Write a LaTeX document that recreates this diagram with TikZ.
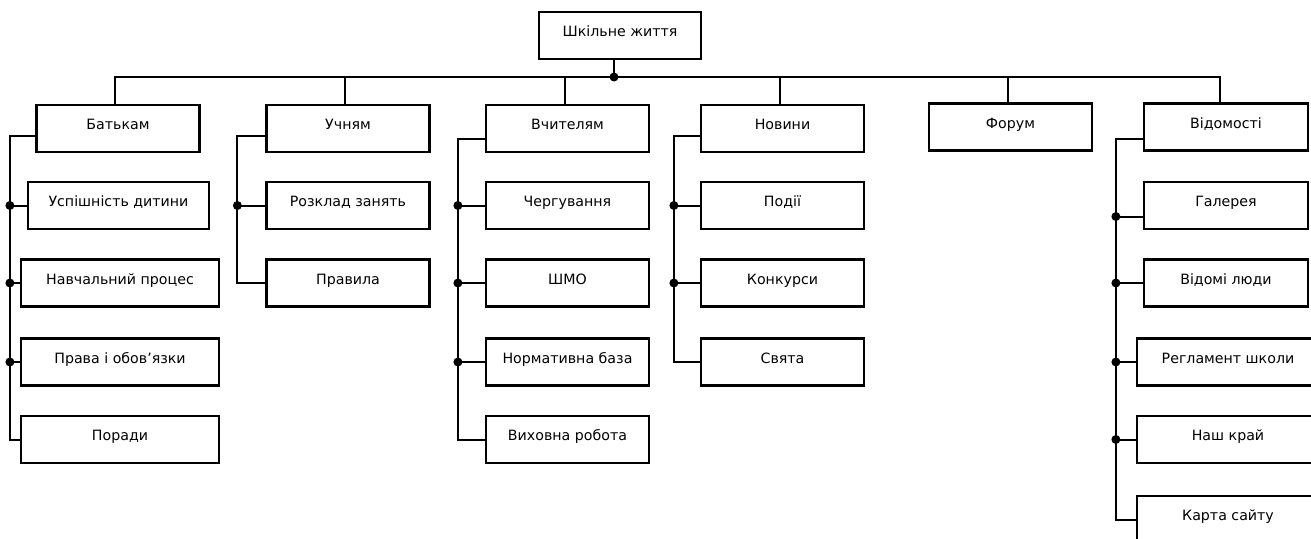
\documentclass[tikz,border=0pt]{standalone}
\usepackage{fontspec}
\setmainfont{DejaVu Sans}
\begin{document}
\begin{tikzpicture}[x=1pt,y=-1pt,
  box/.style={draw, line width=2.2pt, minimum height=47pt, minimum width=163pt,
    inner sep=0pt, text height=10pt, text depth=8pt, font=\fontsize{14.2}{16}\selectfont},
  conn/.style={line width=2pt},
  jdot/.style={circle, fill, inner sep=0pt, minimum size=9pt}]
\useasboundingbox (0,0) rectangle (1311,538);
\clip (0,0) rectangle (1311,538);
% root
\node[box, minimum width=162pt] (root) at (620,35.5) {Шкільне життя};
% level 1
\node[box] (b0) at (118,128.5) {Батькам};
\node[box] (u0) at (348,128.5) {Учням};
\node[box] (t0) at (567.5,128.5) {Вчителям};
\node[box] (n0) at (782.5,128.5) {Новини};
\node[box] (f0) at (1010.5,127) {Форум};
\node[box, minimum width=164pt] (v0) at (1226,127) {Відомості};
% Батькам
\node[box, minimum width=181pt] (b1) at (118.5,205.5) {Успішність дитини};
\node[box, minimum width=198pt] (b2) at (120,283) {Навчальний процес};
\node[box, minimum width=198pt] (b3) at (120,362) {Права і обов’язки};
\node[box, minimum width=198pt] (b4) at (120,439.5) {Поради};
% Учням
\node[box] (u1) at (348,205.5) {Розклад занять};
\node[box] (u2) at (348,283) {Правила};
% Вчителям
\node[box] (t1) at (567.5,205.5) {Чергування};
\node[box] (t2) at (567.5,283) {ШМО};
\node[box] (t3) at (567.5,362) {Нормативна база};
\node[box] (t4) at (567.5,439.5) {Виховна робота};
% Новини
\node[box] (n1) at (782.5,205.5) {Події};
\node[box] (n2) at (782.5,283) {Конкурси};
\node[box] (n3) at (782.5,362) {Свята};
% Відомості
\node[box, minimum width=164pt] (v1) at (1226,205.5) {Галерея};
\node[box, minimum width=164pt] (v2) at (1226,283) {Відомі люди};
\node[box, minimum width=182pt] (v3) at (1228,362) {Регламент школи};
\node[box, minimum width=182pt] (v4) at (1228,439.5) {Наш край};
\node[box, minimum width=182pt] (v5) at (1228,519.5) {Карта сайту};
% bus
\coordinate (bus) at (0,77);
\draw[conn] ([xshift=-6pt]root.south) -- ([xshift=-6pt]root.south |- bus);
\node[jdot] at ([xshift=-6pt]root.south |- bus) {};
\draw[conn] ([xshift=-3pt]b0.north) -- ([xshift=-3pt]b0.north |- bus)
  -- ([xshift=-6pt]v0.north |- bus) -- ([xshift=-6pt]v0.north);
\foreach \n in {u0,t0,n0,f0}
  \draw[conn] ([xshift=-3pt]\n.north) -- ([xshift=-3pt]\n.north |- bus);
% spines
\draw[conn] ([yshift=-7.5pt]b0.west) -| ([xshift=-10pt]b4.west) -- (b4.west);
\foreach \c in {b1,b2,b3}{
  \draw[conn] ([xshift=-10pt]b4.west |- \c.west) -- (\c.west);
  \node[jdot] at ([xshift=-10pt]b4.west |- \c.west) {};}
\draw[conn] ([yshift=-7.5pt]u0.west) -| ([xshift=-28pt]u2.west) -- (u2.west);
\draw[conn] ([xshift=-28pt]u2.west |- u1.west) -- (u1.west);
\node[jdot] at ([xshift=-28pt]u2.west |- u1.west) {};
\draw[conn] ([yshift=-10.5pt]t0.west) -| ([xshift=-27pt]t4.west) -- (t4.west);
\foreach \c in {t1,t2,t3}{
  \draw[conn] ([xshift=-27pt]t4.west |- \c.west) -- (\c.west);
  \node[jdot] at ([xshift=-27pt]t4.west |- \c.west) {};}
\draw[conn] ([yshift=-7.5pt]n0.west) -| ([xshift=-26pt]n3.west) -- (n3.west);
\foreach \c in {n1,n2}{
  \draw[conn] ([xshift=-26pt]n3.west |- \c.west) -- (\c.west);
  \node[jdot] at ([xshift=-26pt]n3.west |- \c.west) {};}
\draw[conn] ([yshift=-12pt]v0.west) -| ([xshift=-20pt]v5.west) -- (v5.west);
\draw[conn] ([xshift=-20pt,yshift=-11pt]v5.west |- v1.west) -- ([yshift=-11pt]v1.west);
\node[jdot] at ([xshift=-20pt,yshift=-11pt]v5.west |- v1.west) {};
\foreach \c in {v2,v3,v4}{
  \draw[conn] ([xshift=-20pt]v5.west |- \c.west) -- (\c.west);
  \node[jdot] at ([xshift=-20pt]v5.west |- \c.west) {};}
\end{tikzpicture}
\end{document}
